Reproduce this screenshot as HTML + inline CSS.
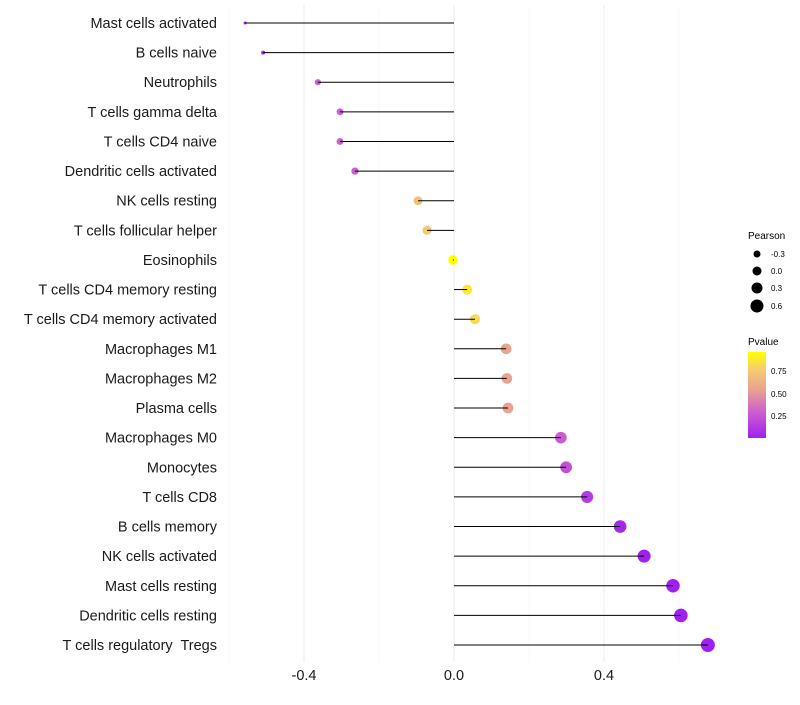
<!DOCTYPE html>
<html><head><meta charset="utf-8"><style>
body{margin:0;background:#fff;font-family:"Liberation Sans",sans-serif}
svg text{font-family:"Liberation Sans",sans-serif;white-space:pre}
</style></head><body>
<svg id="chart" width="800" height="700">
<g id="grid"></g>
<g id="pts"></g>
<g id="marks"></g>
<g id="labels"></g>
<g id="xt"></g>
<g>
<text x="748" y="239" font-size="10" fill="#000">Pearson</text>
<circle cx="757" cy="254" r="3.5" fill="#000"/><text x="771" y="257" font-size="8">-0.3</text>
<circle cx="757" cy="271" r="4.5" fill="#000"/><text x="771" y="274" font-size="8">0.0</text>
<circle cx="757" cy="288" r="5.5" fill="#000"/><text x="771" y="291" font-size="8">0.3</text>
<circle cx="757" cy="306" r="6.5" fill="#000"/><text x="771" y="309" font-size="8">0.6</text>
</g>
<g>
<defs><linearGradient id="pg" x1="0" y1="1" x2="0" y2="0">
<stop offset="0" stop-color="#A020F0"/><stop offset="0.3" stop-color="#CC5ED0"/><stop offset="0.55" stop-color="#E8A090"/><stop offset="0.8" stop-color="#F6CC70"/><stop offset="1" stop-color="#FFFF00"/></linearGradient></defs>
<text x="748" y="345" font-size="10">Pvalue</text>
<rect x="748" y="352" width="18" height="86" fill="url(#pg)"/>
<text x="771" y="374" font-size="8">0.75</text>
<text x="771" y="397" font-size="8">0.50</text>
<text x="771" y="419" font-size="8">0.25</text>
</g>
</svg>
<script>
const categories=["Mast cells activated","B cells naive","Neutrophils","T cells gamma delta","T cells CD4 naive","Dendritic cells activated","NK cells resting","T cells follicular helper","Eosinophils","T cells CD4 memory resting","T cells CD4 memory activated","Macrophages M1","Macrophages M2","Plasma cells","Macrophages M0","Monocytes","T cells CD8","B cells memory","NK cells activated","Mast cells resting","Dendritic cells resting","T cells regulatory  Tregs"];
const pearson=[-0.557,-0.509,-0.363,-0.304,-0.304,-0.264,-0.096,-0.072,-0.003,0.035,0.056,0.139,0.141,0.144,0.285,0.299,0.355,0.443,0.507,0.584,0.605,0.677];
const pvalue=[0.04,0.08,0.3,0.32,0.32,0.3,0.7,0.75,0.99,0.87,0.82,0.55,0.55,0.55,0.3,0.25,0.15,0.06,0.03,0.02,0.02,0.01];
const xTicks=[-0.4,0,0.4];
const xTickLabels=["-0.4","0.0","0.4"];
const gridVals=[-0.6,-0.4,-0.2,0,0.2,0.4,0.6];
const NS="http://www.w3.org/2000/svg";
const xs=v=>454+v*375;
const ys=i=>23+i*(622/21);
const rs=v=>Math.sqrt(Math.max(1,23.35+37.9*v));
function mk(p,t,a){const e=document.createElementNS(NS,t);for(const k in a)e.setAttribute(k,a[k]);p.appendChild(e);return e;}
const stops=[[0,[160,32,240]],[0.3,[204,94,208]],[0.55,[232,160,144]],[0.8,[246,204,112]],[1,[255,255,0]]];
function col(p){const t=Math.min(1,Math.max(0,(p-0.03)/(0.95-0.03)));for(let i=1;i<stops.length;i++){if(t<=stops[i][0]){const a=stops[i-1],b=stops[i],f=(t-a[0])/(b[0]-a[0]);return "rgb("+a[1].map((c,j)=>Math.round(c+(b[1][j]-c)*f)).join(",")+")";}}return "rgb(255,255,0)";}
const g=document.getElementById('grid'),m=document.getElementById('marks'),pg=document.getElementById('pts'),lb=document.getElementById('labels'),xt=document.getElementById('xt');
gridVals.forEach(v=>{const major=Math.round(v*10)%4===0;const l=mk(g,'line',{x1:xs(v),x2:xs(v),y1:5,y2:662,stroke:major?'#ebebeb':'#f4f4f4','stroke-width':major?1:0.6});

});
categories.forEach((c,i)=>{const y=ys(i);
const ci=mk(pg,'circle',{cx:xs(pearson[i]),cy:y,r:rs(pearson[i]),fill:col(pvalue[i])});


const ln=mk(m,'line',{x1:xs(0),x2:xs(pearson[i]),y1:y,y2:y,stroke:'#000','stroke-width':1});


const t=mk(lb,'text',{x:217,y:y+5,'text-anchor':'end','font-size':14.5,fill:'#1a1a1a'});t.textContent=c;

});
xTicks.forEach((v,i)=>{const t=mk(xt,'text',{x:xs(v),y:680,'text-anchor':'middle','font-size':14.5,fill:'#1a1a1a'});t.textContent=xTickLabels[i];

});
</script>
</body></html>
